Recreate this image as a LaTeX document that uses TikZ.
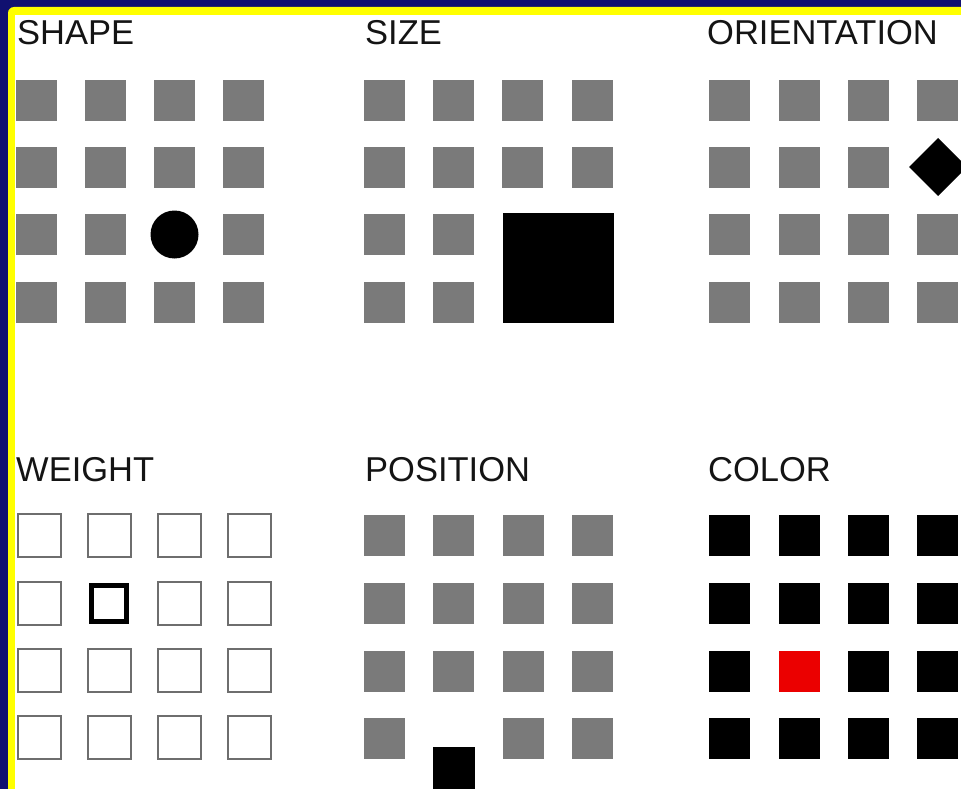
\documentclass[tikz,border=0pt]{standalone}
\usepackage{fontspec}
\setmainfont{Liberation Sans}
\definecolor{navy}{RGB}{16,16,112}
\definecolor{border}{RGB}{255,255,0}
\definecolor{cellgray}{RGB}{122,122,122}
\definecolor{linegray}{RGB}{110,110,110}
\definecolor{hilite}{RGB}{235,0,0}
\begin{document}
\begin{tikzpicture}[x=1pt,y=-1pt,
  lab/.style={anchor=base west,inner sep=0pt,text=black!92,font=\fontsize{34.5}{34.5}\selectfont},
  gsq/.style={fill=cellgray},
  bsq/.style={fill=black},
  osq/.style={draw=linegray,line width=2pt,fill=white},
  boldsq/.style={draw=black,line width=5pt,fill=white}]
\useasboundingbox (0,0) rectangle (961,789);
\clip (0,0) rectangle (961,789);
\fill[navy] (0,0) rectangle (961,789);
\fill[border,rounded corners=6pt] (8,7) rectangle (990,820);
\fill[white] (15,15) rectangle (990,820);
% labels
\node[lab] (shape) at (17,45) {SHAPE};
\node[lab] (size) at (365,45) {SIZE};
\node[lab] (orient) at (707,45) {ORIENTATION};
\node[lab] (weight) at (16,481) {WEIGHT};
\node[lab] (position) at (365,481) {POSITION};
\node[lab] (color) at (708,481) {COLOR};
% SHAPE grid
\foreach \x [count=\i from 0] in {16,85,154,223}{
  \foreach \y [count=\j from 0] in {80,147,214,282}{
    \pgfmathtruncatemacro{\skip}{(\i==2)&&(\j==2)}
    \ifnum\skip=0 \fill[gsq] (\x,\y) rectangle ++(41,41); \fi
  }}
\fill[black] (174.5,234.5) circle (24);
% SIZE grid
\foreach \x [count=\i from 0] in {364,433,502,572}{
  \foreach \y [count=\j from 0] in {80,147,214,282}{
    \pgfmathtruncatemacro{\skip}{(\i>1)&&(\j>1)}
    \ifnum\skip=0 \fill[gsq] (\x,\y) rectangle ++(41,41); \fi
  }}
\fill[black] (503,213) rectangle (614,323);
% ORIENTATION grid
\foreach \x [count=\i from 0] in {709,779,848,917}{
  \foreach \y [count=\j from 0] in {80,147,214,282}{
    \pgfmathtruncatemacro{\skip}{(\i==3)&&(\j==1)}
    \ifnum\skip=0 \fill[gsq] (\x,\y) rectangle ++(41,41); \fi
  }}
\fill[black] (938,138) -- (967,167) -- (938,196) -- (909,167) -- cycle;
% WEIGHT grid
\foreach \x [count=\i from 0] in {18,88,158,228}{
  \foreach \y [count=\j from 0] in {514,582,649,716}{
    \pgfmathtruncatemacro{\skip}{(\i==1)&&(\j==1)}
    \ifnum\skip=0 \draw[osq] (\x,\y) rectangle ++(43,43); \fi
  }}
\draw[boldsq] (91.5,585.5) rectangle (126.5,621.5);
% POSITION grid
\foreach \x [count=\i from 0] in {364,433,503,572}{
  \foreach \y [count=\j from 0] in {515,583,651,718}{
    \pgfmathtruncatemacro{\skip}{(\i==1)&&(\j==3)}
    \ifnum\skip=0 \fill[gsq] (\x,\y) rectangle ++(41,41); \fi
  }}
\fill[black] (433,747) rectangle (475,800);
% COLOR grid
\foreach \x [count=\i from 0] in {709,779,848,917}{
  \foreach \y [count=\j from 0] in {515,583,651,718}{
    \pgfmathtruncatemacro{\red}{(\i==1)&&(\j==2)}
    \ifnum\red=1 \fill[hilite] (\x,\y) rectangle ++(41,41);
    \else \fill[bsq] (\x,\y) rectangle ++(41,41); \fi
  }}
\end{tikzpicture}
\end{document}
